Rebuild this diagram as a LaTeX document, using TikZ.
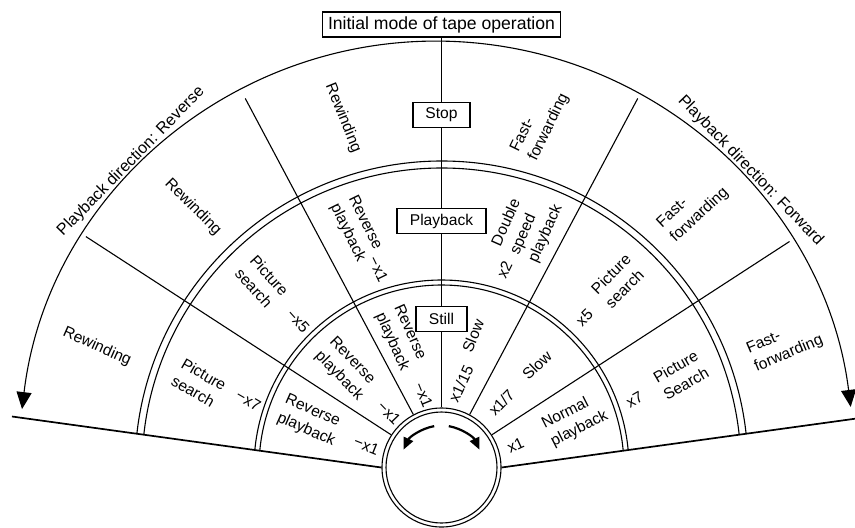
\documentclass[tikz,border=0pt]{standalone}
\usepackage{fontspec}
\setmainfont{Liberation Sans}
\usetikzlibrary{arrows.meta,calc}

\newcommand{\ringfont}{\fontsize{7.8}{10}\selectfont}
\newcommand{\titlefont}{\fontsize{8.8}{10}\selectfont}
\newcommand{\dirfont}{\fontsize{8.1}{10}\selectfont}

\tikzset{
  modebox/.style={draw, fill=white, line width=0.6pt, minimum height=12.5pt, inner xsep=2.75pt, inner ysep=0pt},
  modetext/.style={align=left, inner sep=0pt},
  speedtext/.style={inner sep=0pt},
  turnarrow/.style={line width=1.1pt, -{Triangle[length=6pt,width=5pt]}},
}

\begin{document}
\begin{tikzpicture}[x=0.5pt, y=0.5pt, line width=0.55pt, font=\ringfont]
\useasboundingbox (-441.5,-59.5) rectangle (413.5,467.5);
% hub
\node[draw, circle, minimum size=59.5pt, inner sep=0pt] (hub) at (0,0) {};
\draw (0,0) circle (55.5);
\draw[turnarrow] (100:42) arc (100:155:42);
\draw[turnarrow] (80:42) arc (80:25:42);
% base line
\coordinate (baseL) at (-429.5,51);
\coordinate (baseR) at (429.5,51);
\draw[line width=0.85pt] (hub.west) -- (baseL);
\draw[line width=0.85pt] (hub.east) -- (baseR);
% sector lines
\draw (hub.33) -- (33:415);
\draw (hub.62) -- (62:418);
\draw (hub.118) -- (118:418);
\draw (hub.147) -- (147:424);
% rings
\draw (5.4:182.5) arc (5.4:174.6:182.5);
\draw (5.5:187.5) arc (5.5:174.5:187.5);
\draw (6.35:299.5) arc (6.35:173.65:299.5);
\draw (6.4:306.5) arc (6.4:173.6:306.5);
\coordinate (dirc) at (-5,9);
\draw[{Triangle[length=8.5pt,width=7.5pt]}-{Triangle[length=8.5pt,width=7.5pt]}] ($(dirc)+(173.2:417.4)$) arc (173.2:7.1:417.4);
\node[font=\dirfont, rotate=45.5] (dirrev) at ($(dirc)+(135.8:426)$) {Playback direction: Reverse};
\node[font=\dirfont, rotate=-46] (dirfwd) at ($(dirc)+(42.5:426)$) {Playback direction: Forward};
% initial modes
\node[modebox, font=\titlefont] (init) at (0,443) {Initial mode of tape operation};
\node[modebox, minimum width=28.5pt] (stop) at (0,352.5) {Stop};
\node[modebox, minimum width=44.5pt] (play) at (0,246.5) {Playback};
\node[modebox, minimum width=25.5pt] (still) at (0,148.5) {Still};
\draw (init) -- (stop) -- (play) -- (still) -- (hub);
% outer ring
\node[modetext, rotate=-68] (rwA) at (-98.5,349.5) {Rewinding};
\node[modetext, rotate=-45] (rwB) at (-248.5,260.5) {Rewinding};
\node[modetext, rotate=-24] (rwC) at (-344.5,120.5) {Rewinding};
\node[modetext, rotate=64] (ffA) at (98.5,344.5) {Fast-\\forwarding};
\node[modetext, rotate=43] (ffB) at (251.5,259.5) {Fast-\\forwarding};
\node[modetext, rotate=23] (ffC) at (343.5,122.5) {Fast-\\forwarding};
% middle ring
\node[modetext, rotate=-64] (rpM) at (-85,239) {Reverse\\playback};
\node[speedtext, rotate=-64] (rpMx) at (-63,198.5) {−x1};
\node[modetext, rotate=66] (dsM) at (86,242) {Double\\speed\\playback};
\node[speedtext, rotate=64] (dsMx) at (63,197.5) {x2};
\node[modetext, rotate=-48] (psL) at (-179.5,185.5) {Picture\\search};
\node[speedtext, rotate=-48] (psLx) at (-143.5,146.5) {−x5};
\node[modetext, rotate=45] (psR) at (176.5,186.5) {Picture\\search};
\node[speedtext, rotate=45] (psRx) at (143,150) {x5};
\node[modetext, rotate=-30] (psLL) at (-242.5,84.5) {Picture\\search};
\node[speedtext, rotate=-30] (psLLx) at (-193,67) {−x7};
\node[modetext, rotate=30] (psRR) at (239.5,92.5) {Picture\\Search};
\node[speedtext, rotate=30] (psRRx) at (193,68) {x7};
% inner ring
\node[modetext, rotate=-66] (rpA) at (-40.5,129.5) {Reverse\\playback};
\node[speedtext, rotate=-68] (rpAx) at (-18,72.5) {−x1};
\node[modetext, rotate=68] (slA) at (31.5,131.5) {Slow};
\node[speedtext, rotate=65] (slAx) at (19.5,84) {x1/15};
\node[modetext, rotate=-46] (rpB) at (-95.5,98.5) {Reverse\\playback};
\node[speedtext, rotate=-46] (rpBx) at (-52.5,54.5) {−x1};
\node[modetext, rotate=44] (slB) at (95.5,102.5) {Slow};
\node[speedtext, rotate=46] (slBx) at (60,65) {x1/7};
\node[modetext, rotate=-24] (rpC) at (-131.5,46.5) {Reverse\\playback};
\node[speedtext, rotate=-22] (rpCx) at (-75,22) {−x1};
\node[modetext, rotate=27] (npC) at (133.5,47.5) {Normal\\playback};
\node[speedtext, rotate=25] (npCx) at (74,22.5) {x1};
\end{tikzpicture}
\end{document}
